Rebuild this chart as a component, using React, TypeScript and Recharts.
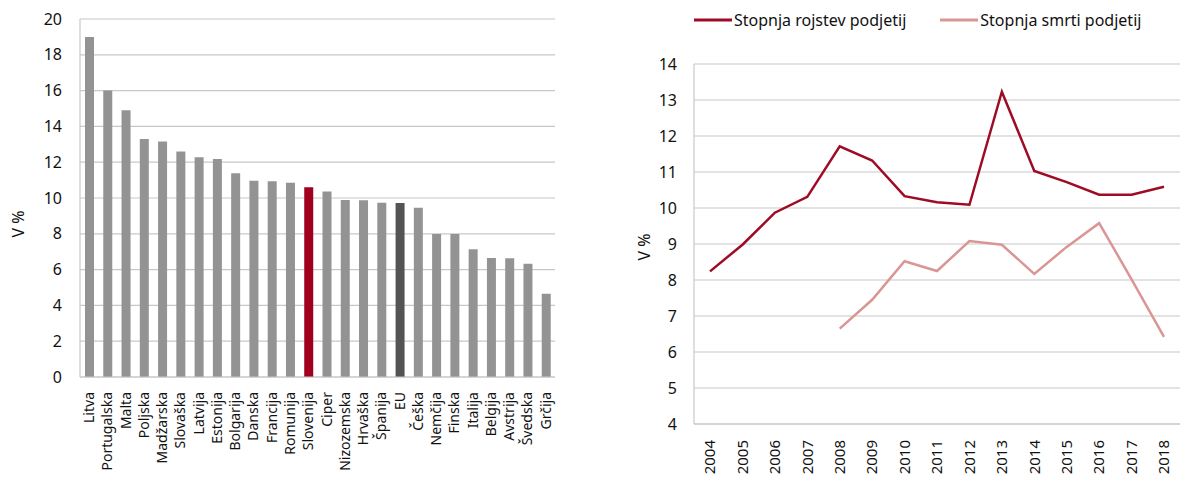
import React from "react"
import {
  Bar,
  BarChart,
  CartesianGrid,
  Cell,
  Legend,
  Line,
  LineChart,
  XAxis,
  YAxis,
} from "recharts"

const countries = [
  "Litva", "Portugalska", "Malta", "Poljska", "Madžarska", "Slovaška", "Latvija",
  "Estonija", "Bolgarija", "Danska", "Francija", "Romunija", "Slovenija", "Ciper",
  "Nizozemska", "Hrvaška", "Španija", "EU", "Češka", "Nemčija", "Finska", "Italija",
  "Belgija", "Avstrija", "Švedska", "Grčija",
]
const birthRates2018 = [
  19.0, 16.0, 14.9, 13.3, 13.15, 12.6, 12.27, 12.18, 11.38, 10.97, 10.93, 10.85, 10.6,
  10.37, 9.89, 9.87, 9.74, 9.72, 9.46, 7.99, 7.99, 7.13, 6.65, 6.63, 6.33, 4.65,
]

const years = [
  "2004", "2005", "2006", "2007", "2008", "2009", "2010", "2011", "2012", "2013",
  "2014", "2015", "2016", "2017", "2018",
]
const birthRate = [
  8.24, 8.98, 9.87, 10.31, 11.71, 11.32, 10.33, 10.16, 10.09, 13.23, 11.03, 10.72,
  10.37, 10.37, 10.59,
]
const deathRate = [
  null, null, null, null, 6.65, 7.45, 8.52, 8.25, 9.08, 8.98, 8.17, 8.92, 9.58, 8.02,
  6.42,
]

const leftTicks = [0, 2, 4, 6, 8, 10, 12, 14, 16, 18, 20]
const rightTicks = [4, 5, 6, 7, 8, 9, 10, 11, 12, 13, 14]

const barData = countries.map((name, i) => ({ name, value: birthRates2018[i] }))
const lineData = years.map((year, i) => ({
  year,
  birth: birthRate[i],
  death: deathRate[i],
}))

const FONT = "'Noto Sans', sans-serif"
const TEXT = "#111"
const GRID = "#c8c8c8"
const DARK_RED = "#9e0b24"
const PINK = "#d99694"

function barColor(name: string) {
  if (name === "Slovenija") return "#a0001e"
  if (name === "EU") return "#545454"
  return "#939393"
}

function VerticalTick(props: any) {
  const { x, y, payload, gap = 6, size = 14 } = props
  return (
    <text
      x={x}
      y={y}
      transform={`rotate(-90, ${x}, ${y})`}
      dx={-gap}
      dy="0.35em"
      textAnchor="end"
      fill={TEXT}
      fontSize={size}
      fontFamily={FONT}
    >
      {payload.value}
    </text>
  )
}

function axisTitle(xPos: number, yPos: number) {
  return () => (
    <text
      x={xPos}
      y={yPos}
      transform={`rotate(-90, ${xPos}, ${yPos})`}
      textAnchor="middle"
      dy="0.35em"
      fill={TEXT}
      fontSize={16}
      fontFamily={FONT}
    >
      V %
    </text>
  )
}

function LineLegend() {
  const items = [
    { label: "Stopnja rojstev podjetij", color: DARK_RED, gap: 34 },
    { label: "Stopnja smrti podjetij", color: PINK, gap: 0 },
  ]
  return (
    <div style={{ display: "flex", fontFamily: FONT, fontSize: 16, color: TEXT, lineHeight: "20px" }}>
      {items.map((it) => (
        <div key={it.label} style={{ display: "flex", alignItems: "center", marginRight: it.gap }}>
          <svg width={38} height={10}>
            <line x1={0} x2={38} y1={5} y2={5} stroke={it.color} strokeWidth={3} />
          </svg>
          <span style={{ marginLeft: 2 }}>{it.label}</span>
        </div>
      ))}
    </div>
  )
}

export default function App() {
  const tickStyle = { fontSize: 16, fill: TEXT, fontFamily: FONT }
  return (
    <div style={{ position: "absolute", left: 0, top: 0, width: 1181, height: 479, background: "#fff", overflow: "hidden" }}>
      <div style={{ position: "absolute", left: 0, top: 0 }}>
        <BarChart
          width={580}
          height={479}
          data={barData}
          margin={{ top: 19, right: 25, bottom: 2, left: 0 }}
        >
          <CartesianGrid vertical={false} stroke={GRID} strokeWidth={1.2} />
          <XAxis
            dataKey="name"
            interval={0}
            height={100}
            tick={<VerticalTick gap={7} size={14} />}
            tickLine={false}
            axisLine={{ stroke: GRID, strokeWidth: 1.2 }}
          />
          <YAxis
            width={80}
            domain={[0, 20]}
            ticks={leftTicks}
            tick={tickStyle}
            tickLine={false}
            tickMargin={12}
            axisLine={{ stroke: GRID, strokeWidth: 1.2 }}
            label={{ content: axisTitle(18, 224) }}
          />
          <YAxis
            yAxisId="frame"
            orientation="right"
            width={0}
            tick={false}
            tickLine={false}
            axisLine={{ stroke: GRID, strokeWidth: 1.2 }}
          />
          <Bar dataKey="value" barSize={9} isAnimationActive={false}>
            {barData.map((d) => (
              <Cell key={d.name} fill={barColor(d.name)} />
            ))}
          </Bar>
        </BarChart>
      </div>
      <div style={{ position: "absolute", left: 620, top: 0 }}>
        <LineChart
          width={561}
          height={479}
          data={lineData}
          margin={{ top: 44, right: 1, bottom: 5, left: 0 }}
        >
          <CartesianGrid vertical={false} stroke={GRID} strokeWidth={1.2} />
          <XAxis
            dataKey="year"
            interval={0}
            height={50}
            padding={{ left: 16, right: 16 }}
            tick={<VerticalTick gap={8} size={15} />}
            tickLine={false}
            axisLine={{ stroke: GRID, strokeWidth: 1.2 }}
          />
          <YAxis
            width={74}
            domain={[4, 14]}
            ticks={rightTicks}
            tick={tickStyle}
            tickLine={false}
            tickMargin={11}
            axisLine={{ stroke: GRID, strokeWidth: 1.2 }}
            label={{ content: axisTitle(24, 247) }}
          />
          <Legend
            verticalAlign="top"
            align="left"
            content={<LineLegend />}
            wrapperStyle={{ top: 10, left: 74 }}
          />
          <Line
            type="linear"
            dataKey="birth"
            stroke={DARK_RED}
            strokeWidth={2.5}
            dot={false}
            isAnimationActive={false}
          />
          <Line
            type="linear"
            dataKey="death"
            stroke={PINK}
            strokeWidth={2.5}
            dot={false}
            connectNulls={false}
            isAnimationActive={false}
          />
        </LineChart>
      </div>
    </div>
  )
}
